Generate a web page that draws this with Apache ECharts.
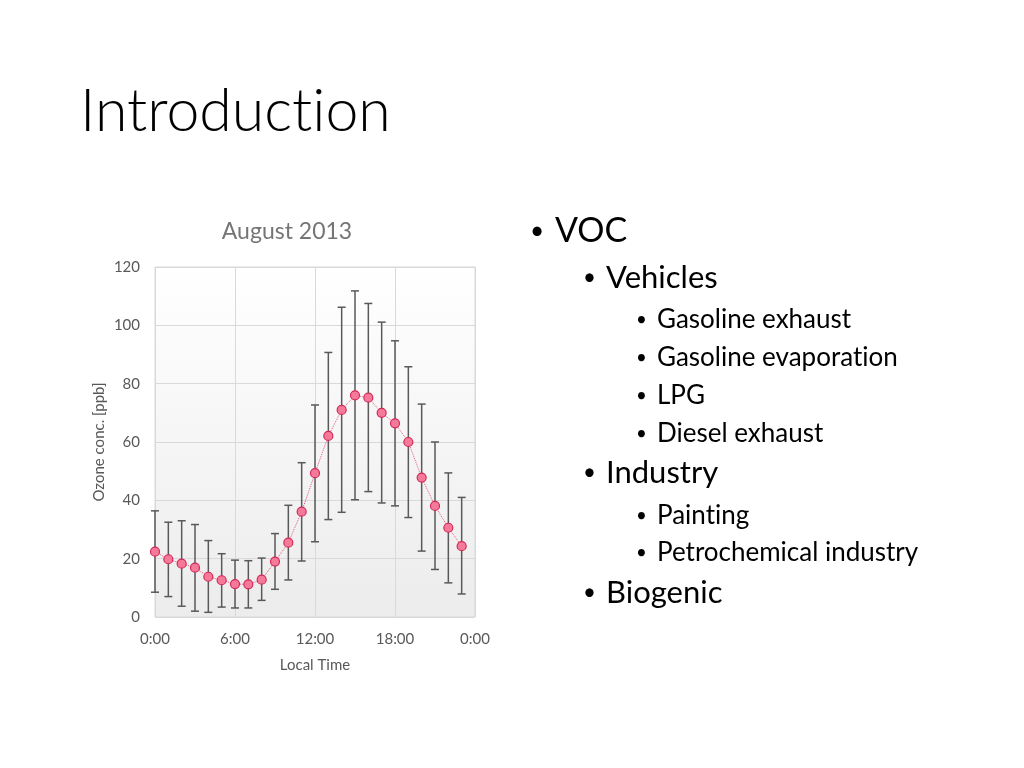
<!DOCTYPE html>
<html><head><meta charset="utf-8">
<script src="https://cdn.jsdelivr.net/npm/echarts@6/dist/echarts.min.js"></script>
<style>html,body{margin:0;padding:0;background:#fff}#c{width:1024px;height:768px}</style>
</head><body><div id="c"></div>
<script>
const hours = [0,1,2,3,4,5,6,7,8,9,10,11,12,13,14,15,16,17,18,19,20,21,22,23];
const meanO3 = [22.4,19.8,18.3,16.9,13.8,12.6,11.3,11.2,12.8,19.0,25.5,36.1,49.3,62.1,71.0,76.0,75.2,70.0,66.4,60.0,47.8,38.1,30.6,24.3];
const upperO3 = [36.4,32.5,33.0,31.7,26.2,21.7,19.5,19.3,20.2,28.6,38.3,52.9,72.7,90.7,106.2,111.8,107.5,101.1,94.7,85.8,73.0,60.0,49.4,41.0];
const lowerO3 = [8.5,7.0,3.7,2.0,1.6,3.4,3.1,3.1,5.7,9.5,12.7,19.2,25.8,33.4,35.9,40.2,43.0,39.1,38.1,34.1,22.6,16.3,11.7,7.9];
const xTicks = [0,6,12,18,24];
const yTicks = [0,20,40,60,80,100,120];
const bullets = [
  {lvl:1, text:'VOC'},
  {lvl:2, text:'Vehicles'},
  {lvl:3, text:'Gasoline exhaust'},
  {lvl:3, text:'Gasoline evaporation'},
  {lvl:3, text:'LPG'},
  {lvl:3, text:'Diesel exhaust'},
  {lvl:2, text:'Industry'},
  {lvl:3, text:'Painting'},
  {lvl:3, text:'Petrochemical industry'},
  {lvl:2, text:'Biogenic'}
];
const bulletY = [231,278,320,358,396,434,473,516,553,593];

const font = 'Lato, "Open Sans", sans-serif';
const ZW = '\u200C';
const noLig = s => s.replace(/t(?=i)/g, 't' + ZW).replace(/f(?=[il])/g, 'f' + ZW);
const chart = echarts.init(document.getElementById('c'));

const graphics = [{
  type:'text', x:80, y:112,
  style:{text:noLig('Introduction'), font:'300 59px ' + font, fill:'#000', textVerticalAlign:'middle'}
},{
  type:'text', x:287, y:232,
  style:{text:'August 2013', font:'23px ' + font, fill:'#757575', textAlign:'center', textVerticalAlign:'middle'}
}];
const lv = {1:{bx:530, tx:555, size:34}, 2:{bx:583, tx:606, size:31}, 3:{bx:636, tx:657, size:26}};
bullets.forEach((b,i)=>{
  const L = lv[b.lvl];
  graphics.push({type:'text', x:L.bx, y:bulletY[i], style:{text:'•', font:(L.size*0.72)+'px '+font, fill:'#000', textVerticalAlign:'middle'}});
  graphics.push({type:'text', x:L.tx, y:bulletY[i], style:{text:noLig(b.text), font:L.size+'px '+font, fill:'#000', textVerticalAlign:'middle'}});
});

chart.setOption({
  animation:false,
  graphic:graphics,
  grid:{left:155, top:267, width:320, height:350, show:true, borderColor:'#d9d9d9', borderWidth:1,
    backgroundColor:new echarts.graphic.LinearGradient(0,0,0,1,[{offset:0,color:'#ffffff'},{offset:1,color:'#ececec'}])},
  xAxis:{type:'value', min:0, max:24, interval:6,
    name:'Local Time', nameLocation:'middle', nameGap:41,
    nameTextStyle:{color:'#595959', fontSize:15, fontFamily:font},
    axisLine:{show:false}, axisTick:{show:false},
    axisLabel:{color:'#595959', fontSize:15, fontFamily:font, margin:15,
      formatter:v=> (xTicks.indexOf(v)>=0 ? (v%24)+':00' : '')},
    splitLine:{lineStyle:{color:'#d9d9d9'}}},
  yAxis:{type:'value', min:0, max:120, interval:20,
    name:'Ozone conc. [ppb]', nameLocation:'middle', nameGap:48,
    nameTextStyle:{color:'#595959', fontSize:15, fontFamily:font},
    axisLine:{show:false}, axisTick:{show:false},
    axisLabel:{color:'#595959', fontSize:15, fontFamily:font, margin:15,
      formatter:v=> (yTicks.indexOf(v)>=0 ? String(v) : '')},
    splitLine:{lineStyle:{color:'#d9d9d9'}}},
  series:[
    {type:'custom', z:2,
     data:hours.map((h,i)=>[h, lowerO3[i], upperO3[i]]),
     renderItem:(params, api)=>{
       const lo = api.coord([api.value(0), api.value(1)]);
       const hi = api.coord([api.value(0), api.value(2)]);
       const w = 4;
       const st = {stroke:'#595959', lineWidth:1.5};
       return {type:'group', children:[
         {type:'line', shape:{x1:lo[0], y1:lo[1], x2:hi[0], y2:hi[1]}, style:st},
         {type:'line', shape:{x1:lo[0]-w, y1:lo[1], x2:lo[0]+w, y2:lo[1]}, style:st},
         {type:'line', shape:{x1:hi[0]-w, y1:hi[1], x2:hi[0]+w, y2:hi[1]}, style:st}
       ]};
     }},
    {type:'line', z:3, data:hours.map((h,i)=>[h, meanO3[i]]),
     symbol:'circle', symbolSize:9,
     lineStyle:{color:'#e4587d', width:1, type:'dotted'},
     itemStyle:{color:'#f57a9a', borderColor:'#d22a57', borderWidth:1.2}}
  ]
});
</script></body></html>
